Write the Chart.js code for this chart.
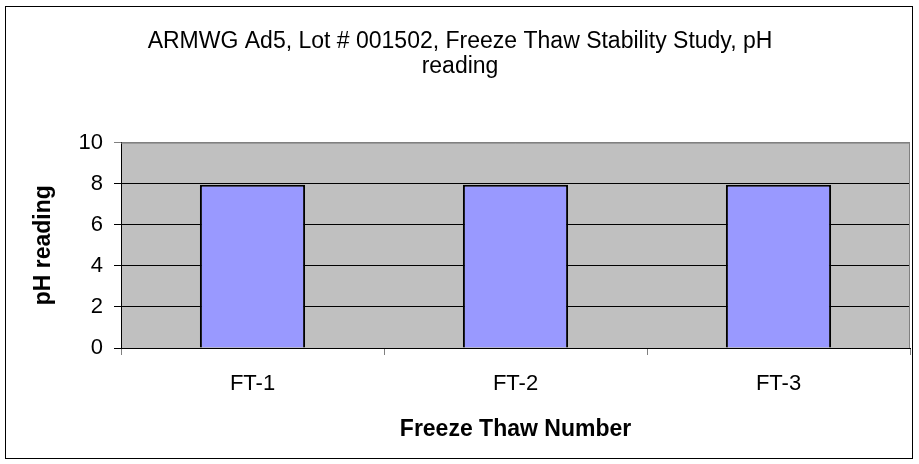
<!DOCTYPE html>
<html>
<head>
<meta charset="utf-8">
<script src="https://cdn.jsdelivr.net/npm/chart.js@4/dist/chart.umd.min.js"></script>
<style>
  html,body{margin:0;padding:0;background:#fff;}
  #wrap{width:919px;height:464px;position:relative;}
</style>
</head>
<body>
<div id="wrap"><canvas id="c" width="919" height="464"></canvas></div>
<script>
'use strict';

/* Daten */
const categories = ['FT-1','FT-2','FT-3'];
const phValues   = [7.95, 7.95, 7.95];
const titleLines = ['ARMWG Ad5, Lot # 001502, Freeze Thaw Stability Study, pH','reading'];

const FONT = "'Liberation Sans', Arial, sans-serif";

/* Rahmen um das ganze Bild + grauer Plot-Hintergrund */
const frame = {
  id:'frame',
  beforeDraw(chart){
    const {ctx, chartArea:a} = chart;
    ctx.save();
    ctx.fillStyle='#fff'; ctx.fillRect(0,0,chart.width,chart.height);
    ctx.strokeStyle='#000'; ctx.lineWidth=1;
    ctx.strokeRect(5.5,6.5,907,452);
    ctx.fillStyle='#c0c0c0'; ctx.fillRect(a.left,a.top,a.right-a.left,a.bottom-a.top);
    ctx.restore();
  },
  afterDatasetsDraw(chart){
    const {ctx, chartArea:a} = chart;
    ctx.save();
    ctx.strokeStyle='#808080'; ctx.lineWidth=1;
    ctx.beginPath();
    ctx.moveTo(a.left, a.top+0.5); ctx.lineTo(a.right-0.5, a.top+0.5); ctx.lineTo(a.right-0.5, a.bottom);
    ctx.stroke();
    ctx.restore();
  }
};

new Chart(document.getElementById('c'), {
  type:'bar',
  data:{ labels:categories, datasets:[{
    label:'pH', data:phValues, backgroundColor:'#9999ff', borderColor:'#000', borderWidth:2,
    barPercentage:0.4, categoryPercentage:1
  }]},
  options:{
    responsive:false, animation:false,
    layout:{ padding:{ left:10, right:9, top:10, bottom:10 } },
    plugins:{
      legend:{ display:false }, tooltip:{ enabled:false },
      title:{ display:true, text:titleLines, color:'#000',
        font:{ family:FONT, size:23, weight:'normal', lineHeight:1.1 },
        padding:{ top:19, bottom:63 } }
    },
    scales:{
      x:{
        offset:true,
        grid:{ offset:true, drawOnChartArea:false, drawTicks:true, tickLength:7, color:'#808080' },
        border:{ color:'#000', width:1 },
        ticks:{ color:'#000', padding:16, font:{ family:FONT, size:22 } },
        title:{ display:true, text:'Freeze Thaw Number', color:'#000',
          font:{ family:FONT, size:23, weight:'bold' }, padding:{ top:0, bottom:11 } },
        afterFit(s){ s.height = 106; }
      },
      y:{
        min:0, max:10,
        ticks:{ stepSize:2, color:'#000', padding:11, font:{ family:FONT, size:22 } },
        grid:{ color:(c)=>c.tick && c.tick.value===10 ? '#808080' : '#000', tickLength:7, drawTicks:true },
        border:{ color:'#000', width:1 },
        title:{ display:true, text:'pH reading', color:'#000',
          font:{ family:FONT, size:23, weight:'bold' }, padding:{ top:20, bottom:0 } },
        afterFit(s){ s.width = 111; }
      }
    }
  },
  plugins:[frame]
});
</script>
</body>
</html>
